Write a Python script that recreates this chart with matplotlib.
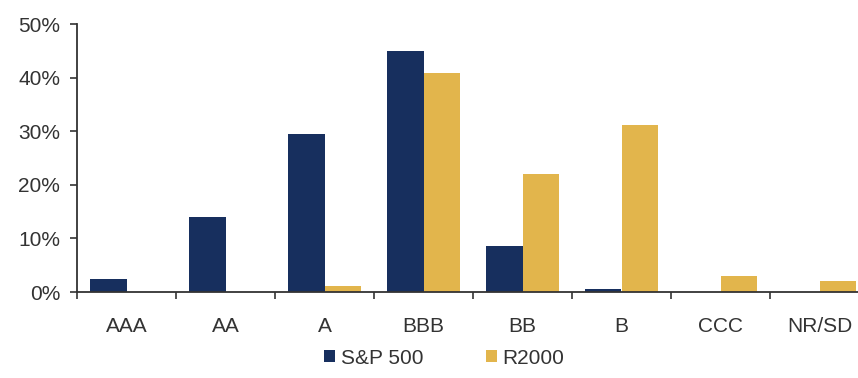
import matplotlib
matplotlib.use("Agg")
import matplotlib.pyplot as plt
import numpy as np
from matplotlib.ticker import FuncFormatter, MultipleLocator

# Credit rating distribution (share of index, %)
ratings = ["AAA", "AA", "A", "BBB", "BB", "B", "CCC", "NR/SD"]
sp500 = [2.4, 14.0, 29.4, 45.0, 8.6, 0.5, 0.0, 0.0]
r2000 = [0.0, 0.0, 1.1, 40.8, 22.0, 31.2, 3.0, 2.1]
series_names = ["S&P 500", "R2000"]

navy = "#172f5e"
gold = "#e2b54c"
text_color = "#333333"

plt.rcParams["font.family"] = ["Liberation Sans", "DejaVu Sans"]

fig = plt.figure(figsize=(8.58, 3.78), dpi=100)
ax = fig.add_axes([77 / 858, 86 / 378, 792 / 858, 268 / 378])

x = np.arange(len(ratings))
w = 0.364
b1 = ax.bar(x - w / 2, sp500, width=w, color=navy, label=series_names[0])
b2 = ax.bar(x + w / 2, r2000, width=w, color=gold, label=series_names[1])

ax.set_xlim(-0.5, len(ratings) - 0.5)
ax.set_ylim(0, 50)
ax.yaxis.set_major_locator(MultipleLocator(10))
ax.yaxis.set_major_formatter(FuncFormatter(lambda v, _: f"{v:.0f}%"))

# category labels centred, tick marks on the boundaries
ax.set_xticks(np.arange(len(ratings) + 1) - 0.5)
ax.set_xticklabels([])
ax.set_xticks(x, minor=True)
ax.set_xticklabels(ratings, minor=True)
ax.tick_params(axis="x", which="minor", length=0, pad=18, labelsize=15, labelcolor=text_color)
ax.tick_params(axis="x", which="major", length=5, width=1.2, color="#333333", direction="out")
ax.tick_params(axis="y", length=5, width=1.2, color="#333333", labelsize=15,
               labelcolor=text_color, pad=7)

for side in ("top", "right"):
    ax.spines[side].set_visible(False)
for side in ("left", "bottom"):
    ax.spines[side].set_color("#333333")
    ax.spines[side].set_linewidth(1.3)

fig.legend(handles=[b1, b2], labels=series_names, loc="center",
           bbox_to_anchor=(444 / 858, 20 / 378), ncol=2, frameon=False,
           fontsize=15, handlelength=0.55, handleheight=0.55, handletextpad=0.25,
           columnspacing=3.0, labelcolor=text_color)

fig.savefig("out.png", dpi=100)
